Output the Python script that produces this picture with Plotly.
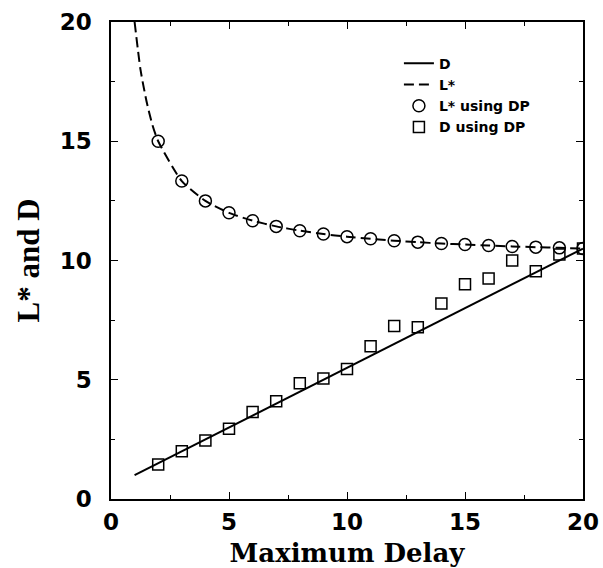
import plotly.graph_objects as go

# Data
x_line = [1, 2, 3, 4, 5, 6, 7, 8, 9, 10, 11, 12, 13, 14, 15, 16, 17, 18, 19, 20]
d_line = [1.0, 1.5, 2.0, 2.5, 3.0, 3.5, 4.0, 4.5, 5.0, 5.5, 6.0, 6.5, 7.0, 7.5, 8.0, 8.5, 9.0, 9.5, 10.0, 10.5]
l_x = [1, 1.25, 1.5, 1.75, 2, 3, 4, 5, 6, 7, 8, 9, 10, 11, 12, 13, 14, 15, 16, 17, 18, 19, 20]
l_line = [20.0, 18.0, 16.7, 15.7, 15.0, 13.33, 12.5, 12.0, 11.67, 11.43, 11.25, 11.11, 11.0, 10.91,
          10.83, 10.77, 10.71, 10.67, 10.63, 10.59, 10.56, 10.53, 10.5]

x_dp = [2, 3, 4, 5, 6, 7, 8, 9, 10, 11, 12, 13, 14, 15, 16, 17, 18, 19, 20]
l_dp = [15.0, 13.33, 12.5, 12.0, 11.67, 11.43, 11.25, 11.11, 11.0, 10.91, 10.83, 10.77, 10.71, 10.67, 10.63, 10.59, 10.56, 10.53, 10.5]
d_dp = [1.45, 2.0, 2.45, 2.95, 3.65, 4.1, 4.85, 5.05, 5.45, 6.4, 7.25, 7.2, 8.2, 9.0, 9.25, 10.0, 9.55, 10.25, 10.5]

x_ticks = [0, 5, 10, 15, 20]
y_ticks = [0, 5, 10, 15, 20]

fig = go.Figure()
fig.add_trace(go.Scatter(x=x_line, y=d_line, mode="lines", name="D",
                         line=dict(color="black", width=2)))
fig.add_trace(go.Scatter(x=l_x, y=l_line, mode="lines", name="L*",
                         line=dict(color="black", width=2, dash="10px,5px", shape="spline", smoothing=0.6)))
fig.add_trace(go.Scatter(x=x_dp, y=l_dp, mode="markers", name="L* using DP",
                         marker=dict(symbol="circle-open", size=12, color="black",
                                     line=dict(width=1.5, color="black"))))
fig.add_trace(go.Scatter(x=x_dp, y=d_dp, mode="markers", name="D using DP",
                         marker=dict(symbol="square-open", size=11, color="black",
                                     line=dict(width=1.5, color="black"))))

axis_common = dict(
    showgrid=False, zeroline=False, showline=True, linecolor="black", linewidth=1.5,
    mirror="ticks", ticks="inside", ticklen=7, tickwidth=1, tickcolor="black",
    tickfont=dict(family="DejaVu Sans", size=23, color="black", weight="bold"),
    minor=dict(ticks="inside", ticklen=4, dtick=2.5, tickcolor="black", tickwidth=1),
    automargin=False,
)

fig.update_xaxes(range=[0, 20], tickvals=x_ticks, ticktext=[str(v) for v in x_ticks],
                 ticklabelstandoff=2,
                 title=dict(text="Maximum Delay", standoff=12,
                            font=dict(family="DejaVu Serif", size=26, color="black", weight="bold")),
                 **axis_common)
fig.update_yaxes(range=[0, 20], tickvals=y_ticks, ticktext=[str(v) for v in y_ticks],
                 ticklabelstandoff=13,
                 title=dict(text="L* and D", standoff=11,
                            font=dict(family="Liberation Serif", size=31, color="black", weight="bold")),
                 **axis_common)

fig.update_layout(
    width=603, height=568,
    margin=dict(l=111, r=20, t=22, b=69),
    paper_bgcolor="white", plot_bgcolor="white",
    showlegend=True,
    legend=dict(x=0.61, y=0.946, xanchor="left", yanchor="top",
                bgcolor="rgba(0,0,0,0)", borderwidth=0,
                font=dict(family="DejaVu Sans", size=14, color="black", weight="bold"),
                tracegroupgap=0, itemwidth=30),
)

fig.write_html(
    "out.html",
    config={"displayModeBar": False},
    post_script="document.body.style.margin='0';document.documentElement.style.overflow='hidden';",
)
